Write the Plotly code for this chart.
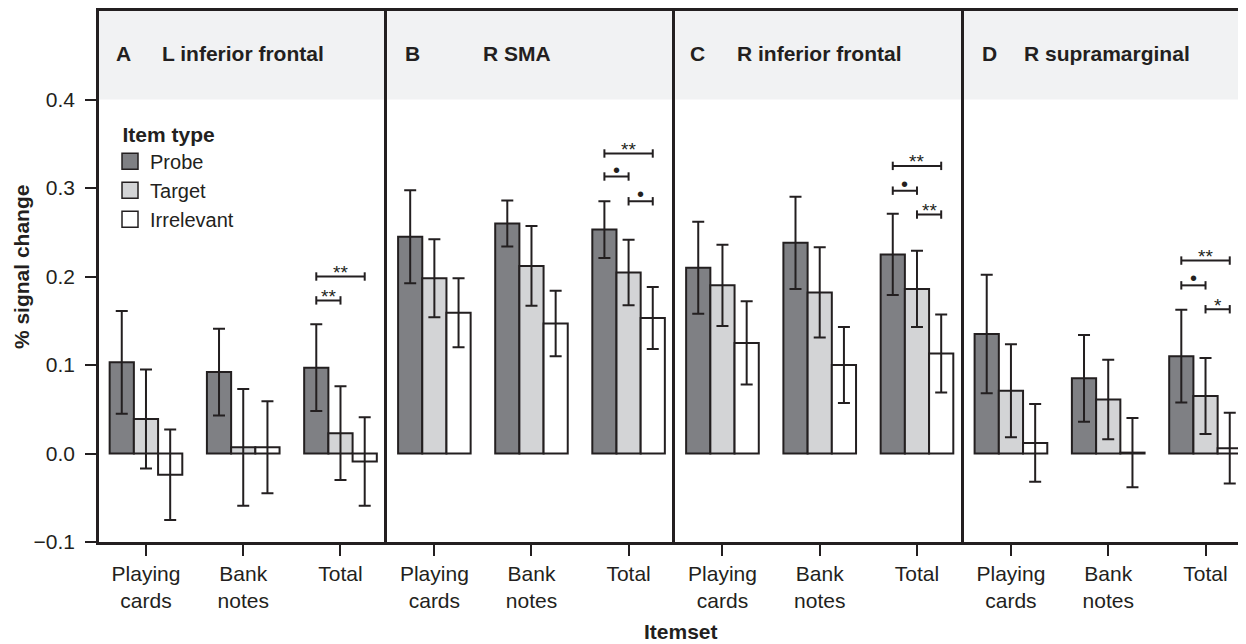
import plotly.graph_objects as go

# ---------------- data ----------------
categories = ["Playing<br>cards", "Bank<br>notes", "Total"]
item_types = ["Probe", "Target", "Irrelevant"]
panel_letters = ["A", "B", "C", "D"]
panel_titles = ["L inferior frontal", "R SMA", "R inferior frontal", "R supramarginal"]

probe_A = [0.103, 0.092, 0.097]
probe_A_err = [0.058, 0.049, 0.049]
target_A = [0.039, 0.007, 0.023]
target_A_err = [0.056, 0.066, 0.053]
irrel_A = [-0.024, 0.007, -0.009]
irrel_A_err = [0.051, 0.052, 0.050]

probe_B = [0.245, 0.260, 0.253]
probe_B_err = [0.0525, 0.026, 0.032]
target_B = [0.198, 0.212, 0.2045]
target_B_err = [0.044, 0.045, 0.037]
irrel_B = [0.159, 0.147, 0.153]
irrel_B_err = [0.039, 0.037, 0.035]

probe_C = [0.210, 0.238, 0.225]
probe_C_err = [0.052, 0.052, 0.046]
target_C = [0.190, 0.182, 0.186]
target_C_err = [0.046, 0.051, 0.043]
irrel_C = [0.125, 0.100, 0.113]
irrel_C_err = [0.047, 0.043, 0.044]

probe_D = [0.135, 0.085, 0.110]
probe_D_err = [0.067, 0.049, 0.0525]
target_D = [0.071, 0.061, 0.065]
target_D_err = [0.0525, 0.045, 0.043]
irrel_D = [0.012, 0.001, 0.006]
irrel_D_err = [0.044, 0.039, 0.040]

# significance brackets on "Total": (from item idx, to item idx, y level, label)
sig_A = [(0, 2, 0.200, "**"), (0, 1, 0.173, "**")]
sig_B = [(0, 2, 0.339, "**"), (0, 1, 0.313, "•"), (1, 2, 0.285, "•")]
sig_C = [(0, 2, 0.325, "**"), (0, 1, 0.297, "•"), (1, 2, 0.270, "**")]
sig_D = [(0, 2, 0.218, "**"), (0, 1, 0.190, "•"), (1, 2, 0.163, "*")]

y_ticks = [-0.1, 0.0, 0.1, 0.2, 0.3, 0.4]

# ---------------- style ----------------
DARK = "#231f20"
FILLS = ["#7f8084", "#d3d4d6", "#ffffff"]
STRIP = "#f1f2f3"
FONT = "Liberation Sans, Arial, Helvetica, sans-serif"
BARGAP = 0.253

panels = [
    ([probe_A, target_A, irrel_A], [probe_A_err, target_A_err, irrel_A_err], sig_A),
    ([probe_B, target_B, irrel_B], [probe_B_err, target_B_err, irrel_B_err], sig_B),
    ([probe_C, target_C, irrel_C], [probe_C_err, target_C_err, irrel_C_err], sig_C),
    ([probe_D, target_D, irrel_D], [probe_D_err, target_D_err, irrel_D_err], sig_D),
]

domains = [[0.0, 0.2515], [0.2515, 0.5026], [0.5026, 0.7541], [0.7541, 1.0]]
xranges = [[-0.483, 2.483], [-0.483, 2.483], [-0.483, 2.483], [-0.483, 2.416]]
letter_off = [15, 16, 13, 16]
title_off = [61, 94, 60, 58]
PLOT_W = 1147

fig = go.Figure()
xpos = list(range(len(categories)))
bar_w = (1 - BARGAP) / 3
total_idx = len(categories) - 1

annotations = []
shapes = []
for p, (vals, errs, sigs) in enumerate(panels):
    sfx = "" if p == 0 else str(p + 1)
    xa, ya = "x" + sfx, "y" + sfx
    for k in range(3):
        fig.add_trace(go.Bar(
            x=xpos, y=vals[k], name=item_types[k], xaxis=xa, yaxis=ya,
            marker=dict(color=FILLS[k], line=dict(color=DARK, width=2)),
            error_y=dict(type="data", array=errs[k], color=DARK, thickness=2, width=6),
            showlegend=False,
        ))
    for (a, b, yv, lab) in sigs:
        xa0 = total_idx + (a - 1) * bar_w
        xb0 = total_idx + (b - 1) * bar_w
        fig.add_trace(go.Scatter(
            x=[xa0, xb0], y=[yv, yv], xaxis=xa, yaxis=ya, mode="lines+markers",
            line=dict(color=DARK, width=2),
            marker=dict(symbol="line-ns-open", size=6, line=dict(color=DARK, width=2)),
            showlegend=False, hoverinfo="skip", cliponaxis=False,
        ))
        is_dot = lab == "•"
        annotations.append(dict(
            x=(xa0 + xb0) / 2, y=yv, xref=xa, yref=ya, text=lab, showarrow=False,
            yanchor="middle", yshift=7 if is_dot else 4,
            font=dict(family=FONT, size=20 if is_dot else 19, color=DARK),
        ))
    # grey strip
    shapes.append(dict(type="rect", xref=xa + " domain", yref=ya, x0=0, x1=1,
                       y0=0.4, y1=0.5, fillcolor=STRIP, line=dict(width=0), layer="below"))
    pw = (domains[p][1] - domains[p][0]) * PLOT_W
    annotations.append(dict(
        x=letter_off[p] / pw, y=0.45, xref=xa + " domain", yref=ya, xanchor="left",
        yanchor="middle", text="<b>" + panel_letters[p] + "</b>", showarrow=False,
        yshift=2, font=dict(family=FONT, size=21, color=DARK)))
    annotations.append(dict(
        x=title_off[p] / pw, y=0.45, xref=xa + " domain", yref=ya, xanchor="left",
        yanchor="middle", text="<b>" + panel_titles[p] + "</b>", showarrow=False,
        yshift=2, font=dict(family=FONT, size=21, color=DARK)))

    xaxis = dict(
        domain=domains[p], range=xranges[p], anchor=ya, tickmode="array",
        tickvals=xpos, ticktext=categories, showline=True, mirror=True,
        linecolor=DARK, linewidth=2.5, ticks="outside", ticklen=11, tickwidth=2,
        tickcolor=DARK, showgrid=False, zeroline=False, ticklabelstandoff=0,
        tickfont=dict(family=FONT, size=21, color=DARK),
    )
    yaxis = dict(
        domain=[0, 1], range=[-0.1, 0.5], anchor=xa, showline=True, mirror=False,
        linecolor=DARK, linewidth=2.5, showgrid=False, zeroline=False,
    )
    if p == 0:
        yaxis.update(tickmode="array", tickvals=y_ticks, tickformat=".1f",
                     ticks="outside", ticklen=11, tickwidth=2, tickcolor=DARK,
                     ticklabelstandoff=6,
                     tickfont=dict(family=FONT, size=21, color=DARK))
    else:
        yaxis.update(showticklabels=False, ticks="")
    fig.layout["xaxis" + sfx] = xaxis
    fig.layout["yaxis" + sfx] = yaxis

# legend entries
for k in range(3):
    fig.add_trace(go.Scatter(
        x=[None], y=[None], mode="markers", name=item_types[k],
        marker=dict(symbol="square", size=16, color=FILLS[k], line=dict(color=DARK, width=1.5)),
    ))

annotations.append(dict(
    x=-0.067, y=0.518, xref="paper", yref="paper", text="<b>% signal change</b>",
    textangle=-90, showarrow=False, xanchor="center", yanchor="middle",
    font=dict(family=FONT, size=21, color=DARK)))
annotations.append(dict(
    x=0.5074, y=-0.168, xref="paper", yref="paper", text="<b>Itemset</b>",
    showarrow=False, xanchor="center", yanchor="middle",
    font=dict(family=FONT, size=21, color=DARK)))

fig.update_layout(
    width=1238, height=636,
    margin=dict(l=91, r=0, t=1, b=102),
    paper_bgcolor="white", plot_bgcolor="white",
    barmode="group", bargap=BARGAP, bargroupgap=0,
    showlegend=True,
    legend=dict(
        x=0.0096, y=0.805, xanchor="left", yanchor="top",
        title=dict(text="\u2002<b>Item type</b>", font=dict(family=FONT, size=21, color=DARK)),
        font=dict(family=FONT, size=20, color=DARK),
        bgcolor="rgba(0,0,0,0)", itemsizing="trace", tracegroupgap=0,
    ),
    annotations=annotations,
    shapes=shapes,
)

fig.write_html("out.html")
